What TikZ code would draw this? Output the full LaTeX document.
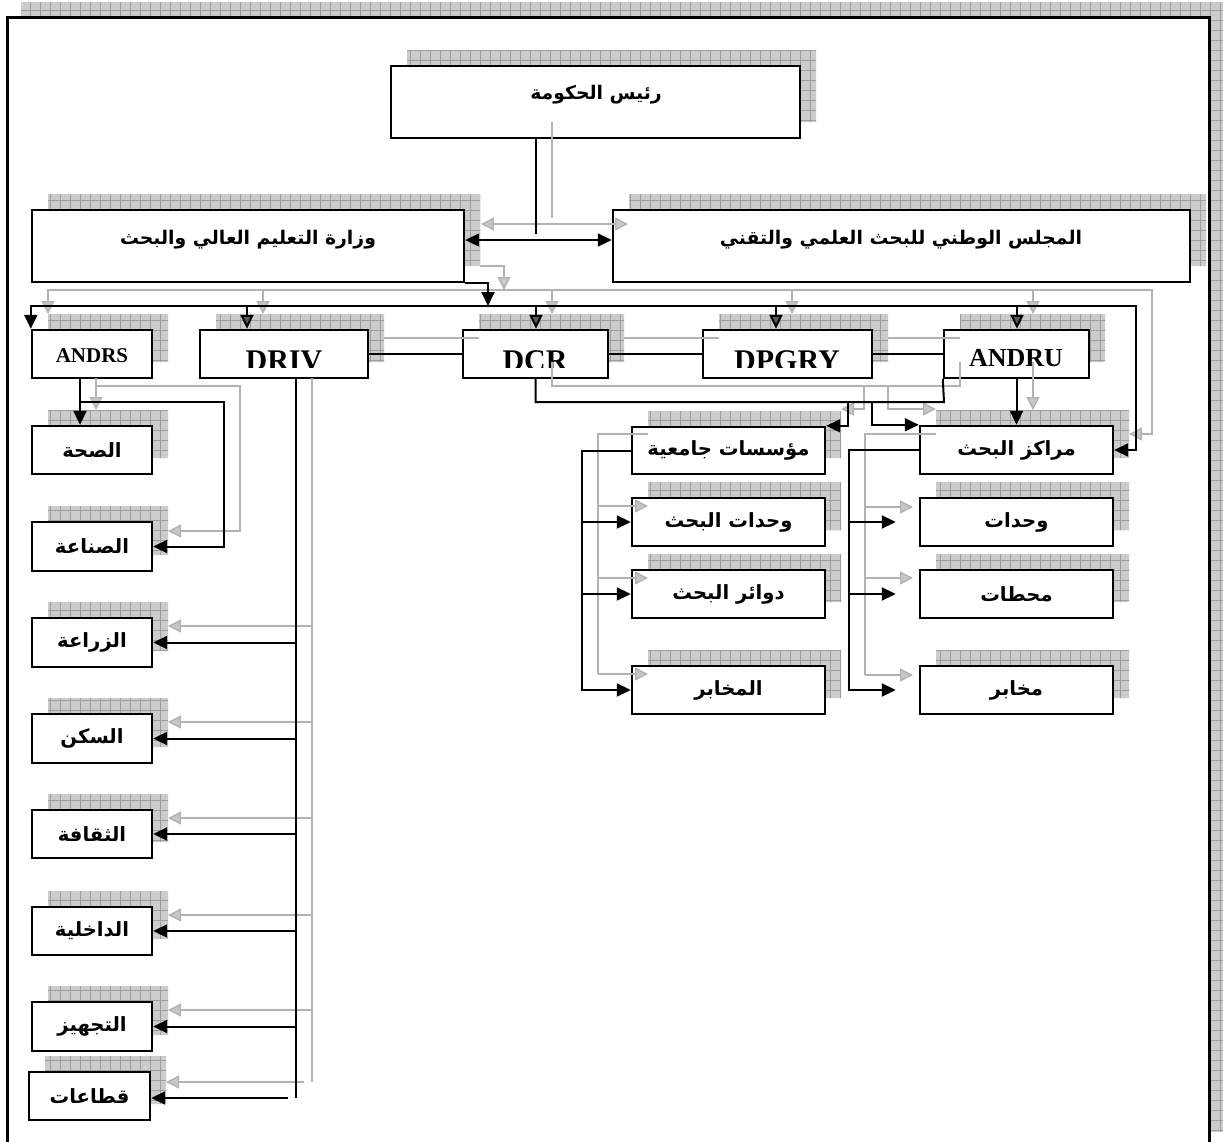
\documentclass[tikz,border=0pt]{standalone}
\usepackage{fontspec}
\setmainfont{Liberation Serif}
\newfontfamily\arabicfont[Script=Arabic]{DejaVu Sans}
\TeXXeTstate=1
\usetikzlibrary{arrows.meta,calc}
\newcommand\rtl[1]{\beginR #1\endR}
\tikzset{
  btip/.tip={Triangle[length=7pt,width=6.5pt]},
  dtip/.tip={Triangle[length=7pt,width=6.5pt,fill=black!65]},
  gtip/.tip={Triangle[length=6.5pt,width=6.5pt,fill=black!22]},
}
\begin{document}
\begin{tikzpicture}[x=0.5pt,y=-0.5pt,
  box/.style={draw=black,line width=1.2pt,fill=white,inner sep=0pt,
    font=\arabicfont\bfseries\fontsize{9.8}{11}\selectfont},
  artext/.style={inner sep=0pt,font=\arabicfont\bfseries\fontsize{9.4}{11}\selectfont},
  lat/.style={inner sep=0pt,font=\bfseries\fontsize{15}{17}\selectfont},
  conn/.style={line width=1pt,draw=black},
  gconn/.style={line width=0.7pt,draw=black!30},
  shfill/.style={fill=black!20},
  shgrid/.style={draw=black!38,line width=0.3pt},
]
\useasboundingbox (0,0) rectangle (1223,1142);
\clip (0,0) rectangle (1223,1142);
% frame shadow
\begin{scope}
  \clip (21,2) rectangle (1223,1131);
  \fill[shfill] (0,0) rectangle (1223,1142);
  \foreach \gx in {0,10,...,1230} \draw[shgrid] (\gx,0) -- (\gx,1142);
  \foreach \gy in {0,10,...,1140} \draw[shgrid] (0,\gy) -- (1223,\gy);
\end{scope}
% frame
\draw[line width=1.5pt,fill=white] (7,17) rectangle (1209,1146);
% box shadows
\begin{scope}
  \clip foreach \l/\t/\r/\b in {391/66/800/138, 32/210/464/282, 613/210/1190/282,
     32/330/152/378, 200/330/368/378, 463/330/608/378, 703/330/872/378, 944/330/1089/378,
     32/426/152/474, 32/522/152/571, 32/618/152/667, 32/714/152/763, 32/810/152/858,
     32/907/152/955, 32/1002/152/1051, 29/1072/150/1120,
     632/427/825/474, 632/498/825/546, 632/570/825/618, 632/666/825/714,
     920/426/1113/474, 920/498/1113/546, 920/570/1113/618, 920/666/1113/714}
     {({\l+16},{\t-16}) rectangle ({\r+16},{\b-16})};
  \fill[shfill] (0,0) rectangle (1223,1142);
  \foreach \gx in {0,10,...,1230} \draw[shgrid] (\gx,0) -- (\gx,1142);
  \foreach \gy in {0,10,...,1140} \draw[shgrid] (0,\gy) -- (1223,\gy);
\end{scope}
% boxes
\newcommand\bx[6]{\node[box,minimum width={(#4-#2)*0.5pt},minimum height={(#5-#3)*0.5pt}] (#1) at ({(#2+#4)/2},{(#3+#5)/2}) {#6};}
\bx{gov}{391}{66}{800}{138}{}
\bx{min}{32}{210}{464}{282}{}
\bx{cnc}{613}{210}{1190}{282}{}
\bx{andrs}{32}{330}{152}{378}{}
\bx{driv}{200}{330}{368}{378}{}
\bx{dcr}{463}{330}{608}{378}{}
\bx{dpgry}{703}{330}{872}{378}{}
\bx{andru}{944}{330}{1089}{378}{}
\bx{sih}{32}{426}{152}{474}{\rtl{الصحة}}
\bx{sin}{32}{522}{152}{571}{\rtl{الصناعة}}
\bx{zir}{32}{618}{152}{667}{\rtl{الزراعة}}
\bx{sak}{32}{714}{152}{763}{}
\bx{thq}{32}{810}{152}{858}{\rtl{الثقافة}}
\bx{dak}{32}{907}{152}{955}{\rtl{الداخلية}}
\bx{taj}{32}{1002}{152}{1051}{\rtl{التجهيز}}
\bx{qit}{29}{1072}{150}{1120}{\rtl{قطاعات}}
\bx{moas}{632}{427}{825}{474}{\rtl{مؤسسات جامعية}}
\bx{wbh}{632}{498}{825}{546}{\rtl{وحدات البحث}}
\bx{dwa}{632}{570}{825}{618}{\rtl{دوائر البحث}}
\bx{mkh}{632}{666}{825}{714}{\rtl{المخابر}}
\bx{mrk}{920}{426}{1113}{474}{\rtl{مراكز البحث}}
\bx{wah}{920}{498}{1113}{546}{\rtl{وحدات}}
\bx{mht}{920}{570}{1113}{618}{\rtl{محطات}}
\bx{mkb}{920}{666}{1113}{714}{\rtl{مخابر}}
% texts of the large boxes
\node[artext] (tgov) at (596,95) {\rtl{رئيس الحكومة}};
\node[artext] (tmin) at (248,240) {\rtl{وزارة التعليم العالي والبحث}};
\node[artext] (tcnc) at (901,240) {\rtl{المجلس الوطني للبحث العلمي والتقني}};
\node[lat,font=\bfseries\fontsize{10.5}{12}\selectfont,anchor=base] (tandrs) at (92,362) {ANDRS};
\node[lat,font=\bfseries\fontsize{13}{15}\selectfont,anchor=base] (tandru) at (1016,366) {ANDRU};
\begin{scope}
  \clip (200,330) rectangle (872,367);
  \node[lat,anchor=base] (tdriv) at (284,370) {DRIV};
  \node[lat,anchor=base] (tdcr) at (535,370) {DCR};
  \node[lat,anchor=base] (tdpgry) at (787,370) {DPGRY};
\end{scope}
\begin{scope}
  \clip (32,714) rectangle (152,751);
  \node[box,draw=none,fill=none] (tsak) at (92,738.5) {\rtl{السكن}};
\end{scope}
% gray shadow connectors
\draw[gconn] (552,122) -- (552,218);
\draw[gconn,gtip-gtip] (481,224) -- (628,224);
\draw[gconn,-gtip] (480,266) -- (504,266) -- (504,290);
\draw[gconn,gtip-gtip] (48,314) -- (48,290) -- (1152,290) -- (1152,434) -- (1129,434);
\foreach \xx in {263,552,792,1033} \draw[gconn,-gtip] (\xx,290) -- (\xx,314);
\draw[gconn] (384,338) -- (479,338);
\draw[gconn] (624,338) -- (719,338);
\draw[gconn] (888,338) -- (960,338);
\draw[gconn] (552,362) -- (552,386) -- (960,386) -- (960,362);
\draw[gconn,-gtip] (864,386) -- (864,409) -- (841,409);
\draw[gconn,-gtip] (888,386) -- (888,409) -- (936,409);
\draw[gconn,-gtip] (1033,362) -- (1033,410);
\draw[gconn,-gtip] (96,378) -- (96,410);
\draw[gconn,-gtip] (96,386) -- (240,386) -- (240,531) -- (168,531);
\draw[gconn] (312,378) -- (312,1082);
\foreach \yy in {626,722,818,915,1010} \draw[gconn,-gtip] (312,\yy) -- (168,\yy);
\draw[gconn,-gtip] (304,1082) -- (166,1082);
\draw[gconn] (648,434) -- (598,434) -- (598,674);
\foreach \yy in {506,578,674} \draw[gconn,-gtip] (598,\yy) -- (648,\yy);
\draw[gconn] (936,434) -- (865,434) -- (865,675);
\foreach \yy in {507,578,675} \draw[gconn,-gtip] (865,\yy) -- (913,\yy);
% black connectors
\coordinate (cgA) at (536,234);
\draw[conn] (cgA |- gov.south) -- (cgA);
\coordinate (cdA) at (0,240);
\draw[conn,btip-btip] (min.east |- cdA) -- (cnc.west |- cdA);
\coordinate (cmb) at (488,306);
\draw[conn,-btip] (min.south east) -| (cmb);
\coordinate (bus) at (1136,306);
\draw[conn,btip-btip] (andrs.north west) -- (andrs.north west |- bus) -- (bus) |- (mrk.east);
\foreach \n/\xx in {driv/247,dcr/536,dpgry/776,andru/1017}{
  \coordinate (d-\n) at (\xx,306);
  \draw[conn,-dtip] (d-\n) -- (d-\n |- \n.north);
}
\draw[conn] (driv) -- (dcr);
\draw[conn] (dcr) -- (dpgry);
\draw[conn] (dpgry) -- (andru);
\coordinate (j1) at (944,402);
\draw[conn] (dcr.south) |- (j1) -- (andru.south west);
\coordinate (j2) at (848,402);
\draw[conn,-btip] (j2) |- (moas.north east);
\coordinate (j3) at (872,402);
\draw[conn,-btip] (j3) |- (mrk.north west);
\draw[conn,-btip] (andru.south) -- (mrk.north);
\coordinate (a1) at (80,402);
\draw[conn,-btip] (a1 |- andrs.south) -- (a1 |- sih.north);
\coordinate (a2) at (224,402);
\draw[conn,-btip] (a1) -- (a2) |- (sin.east);
\coordinate (v1) at (296,1098);
\draw[conn] (v1 |- driv.south) -- (v1);
\foreach \n in {zir,sak,thq,dak,taj} \draw[conn,-btip] (v1 |- \n.east) -- (\n.east);
\coordinate (v2) at (288,1098);
\draw[conn,-btip] (v2) -- (qit.east |- v2);
\coordinate (m1) at (582,691);
\draw[conn] (moas.west) -| (m1);
\foreach \n in {wbh,dwa,mkh} \draw[conn,-btip] (m1 |- \n.west) -- (\n.west);
\coordinate (r1) at (849,691);
\draw[conn] (mrk.west) -| (r1);
\foreach \n in {wah,mht,mkb} \draw[conn,-btip,shorten >=11.5pt] (r1 |- \n.west) -- (\n.west);
\end{tikzpicture}
\end{document}
